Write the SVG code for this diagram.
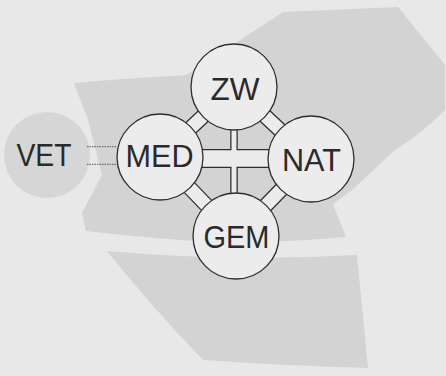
<svg xmlns="http://www.w3.org/2000/svg" width="446" height="376" viewBox="0 0 446 376">
<style>
.bg{fill:#e8e8e8}
.area{fill:#d3d3d3}
.vet{fill:#d6d6d6}
.node{fill:#ececec;stroke:#2e2e2e;stroke-width:1.3}
.lbl{font-family:"Liberation Sans",Arial,sans-serif;font-size:31px;fill:#2a2a2a;text-anchor:middle}
.bo{stroke:#2e2e2e;fill:none}
.bi{stroke:#ececec;fill:none}
.dot{stroke:#555;stroke-width:1;stroke-dasharray:1.5 1;fill:none}
</style>
<rect class="bg" x="0" y="0" width="446" height="376"/>
<g id="areas">
<path class="area" d="M74,83 Q130,78 187,75 L283,12 L398,7 L445,65 L445,110 Q420,135 395,150 L352,190 L333,204 L346,237 Q260,245 180,240 Q130,236 86,231 L82,213 L102,175 L88,120 Z"/>
<path class="area" d="M107,251 Q230,262 357,255 L368,368 Q290,366 203,360 Q150,305 107,251 Z"/>
</g>
<g id="VET">
<circle class="vet" cx="47" cy="155" r="43"/>
<text class="lbl" x="44" y="166" textLength="55" lengthAdjust="spacingAndGlyphs">VET</text>
</g>
<g id="connectors">
<line class="dot" x1="87" y1="146.7" x2="117" y2="146.7"/>
<line class="dot" x1="87" y1="164.3" x2="117" y2="164.3"/>
<g class="bo">
<line x1="160" y1="157" x2="234" y2="87" stroke-width="15.5"/>
<line x1="311" y1="159" x2="234" y2="87" stroke-width="15.5"/>
<line x1="160" y1="157" x2="236" y2="236" stroke-width="15.5"/>
<line x1="311" y1="159" x2="236" y2="236" stroke-width="15.5"/>
<line x1="160" y1="158.5" x2="311" y2="158.5" stroke-width="19"/>
<line x1="234" y1="87" x2="234" y2="236" stroke-width="7.5"/>
</g>
<g class="bi">
<line x1="160" y1="157" x2="234" y2="87" stroke-width="13"/>
<line x1="311" y1="159" x2="234" y2="87" stroke-width="13"/>
<line x1="160" y1="157" x2="236" y2="236" stroke-width="13"/>
<line x1="311" y1="159" x2="236" y2="236" stroke-width="13"/>
<line x1="160" y1="158.5" x2="311" y2="158.5" stroke-width="16.5"/>
<line x1="234" y1="87" x2="234" y2="236" stroke-width="5"/>
</g>
</g>
<g id="ZW">
<circle class="node" cx="234" cy="87" r="43"/>
<text class="lbl" x="235" y="100" textLength="49" lengthAdjust="spacingAndGlyphs">ZW</text>
</g>
<g id="MED">
<circle class="node" cx="160" cy="157" r="43"/>
<text class="lbl" x="159.5" y="167" textLength="68" lengthAdjust="spacingAndGlyphs">MED</text>
</g>
<g id="NAT">
<circle class="node" cx="311" cy="159" r="43"/>
<text class="lbl" x="311.5" y="171" textLength="59" lengthAdjust="spacingAndGlyphs">NAT</text>
</g>
<g id="GEM">
<circle class="node" cx="236" cy="236" r="43"/>
<text class="lbl" x="236.5" y="248" textLength="66" lengthAdjust="spacingAndGlyphs">GEM</text>
</g>
</svg>
